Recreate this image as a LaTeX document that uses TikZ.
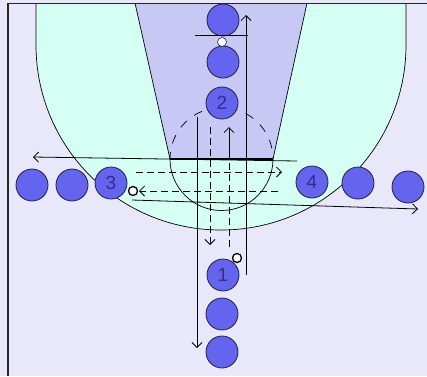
\documentclass[tikz,border=0pt]{standalone}
\usepackage{fontspec}
\setmainfont{Liberation Sans}
\usetikzlibrary{arrows.meta}
\definecolor{bg}{HTML}{E8E8FA}
\definecolor{cyanfill}{HTML}{D4FFF2}
\definecolor{lanefill}{HTML}{C8C8F4}
\definecolor{playerfill}{HTML}{6464EE}
\definecolor{playertext}{HTML}{30308A}
\definecolor{playerline}{HTML}{202040}
\begin{document}
\begin{tikzpicture}[x=1pt,y=1pt,
  player/.style={circle,draw=playerline,line width=0.8pt,fill=playerfill,minimum size=32pt,inner sep=0pt,text=playertext,font=\fontsize{19}{19}\selectfont},
  ballmark/.style={circle,draw=black,line width=1.3pt,fill=white,minimum size=9pt,inner sep=0pt},
  ballsmall/.style={circle,draw=playerline,line width=0.6pt,fill=white,minimum size=9pt,inner sep=0pt},
  courtline/.style={line width=0.7pt,black},
  move/.style={line width=0.8pt,-{Straight Barb[length=5pt,width=10pt]}},
  dmove/.style={line width=0.8pt,dash pattern=on 7pt off 4pt,-{Straight Barb[length=5pt,width=10pt]}},
  dline/.style={line width=0.8pt,dash pattern=on 7pt off 4pt}]
\useasboundingbox (0,0) rectangle (427,-376);
\fill[bg] (0,0) rectangle (427,-376);
% three point area
\fill[cyanfill] (36,-3) -- (36,-45) arc[start angle=180,end angle=360,radius=185] -- (406,-3) -- cycle;
\draw[courtline] (36,-3) -- (36,-45) arc[start angle=180,end angle=360,radius=185] -- (406,-3);
% lane
\fill[lanefill] (135,-3) -- (307,-3) -- (273,-159) -- (170,-159) -- cycle;
\draw[courtline] (135,-3) -- (170,-159);
\draw[courtline] (307,-3) -- (273,-159);
% free throw circle
\draw[courtline] (170,-159) arc[start angle=180,end angle=360,radius=51.5];
\draw[courtline,dash pattern=on 9pt off 9pt,dash phase=2pt] (170,-159) arc[start angle=180,end angle=0,radius=51.5];
\draw[line width=1.6pt] (170,-159) -- (273,-159);
% border
\draw[line width=2pt,black!85] (7.5,-3) -- (7.5,-376);
\draw[line width=1pt,black!85] (7,-3) -- (427,-3);

% coordinates
\coordinate (a1s) at (246,-275); \coordinate (a1e) at (246,-15);
\coordinate (a2s) at (197,-117); \coordinate (a2e) at (197,-348);
\coordinate (a3s) at (210,-127); \coordinate (a3e) at (210,-245);
\coordinate (a4s) at (229,-247); \coordinate (a4m) at (229,-160); \coordinate (a4e) at (229,-127);
\coordinate (a5s) at (297,-161); \coordinate (a5e) at (33,-157);
\coordinate (a6s) at (136,-172); \coordinate (a6e) at (282,-172);
\coordinate (a7s) at (278,-191); \coordinate (a7e) at (139,-191);
\coordinate (a8s) at (132,-200); \coordinate (a8e) at (418,-209);
\coordinate (scl) at (195,-35); \coordinate (scr) at (248,-35);

% movements
\draw[move] (a1s) -- (a1e);
\draw[move] (a2s) -- (a2e);
\draw[dmove] (a3s) -- (a3e);
\draw[dline] (a4s) -- (a4m);
\draw[move] (a4m) -- (a4e);
\draw[move] (a5s) -- (a5e);
\draw[dmove] (a6s) -- (a6e);
\draw[dmove] (a7s) -- (a7e);
\draw[move] (a8s) -- (a8e);

% players
\node[player] (pA) at (223,-20) {};
\node[player] (pB) at (223,-62) {};
\node[player] (p2) at (222,-103) {2};
\node[player] (L1) at (32,-185) {};
\node[player] (L2) at (72,-185) {};
\node[player] (p3) at (111,-183) {3};
\node[player] (p4) at (312,-182) {4};
\node[player] (R1) at (358,-183) {};
\node[player] (R2) at (408,-187) {};
\node[player] (p1) at (223,-275) {1};
\node[player] (B1) at (222,-314) {};
\node[player] (B2) at (222,-352) {};

% screen and balls
\draw[line width=0.9pt] (scl) -- (scr);
\node[ballsmall] (ball0) at (222,-42) {};
\node[ballmark] (ball3) at (133,-191) {};
\node[ballmark] (ball1) at (237,-258) {};
\end{tikzpicture}
\end{document}
